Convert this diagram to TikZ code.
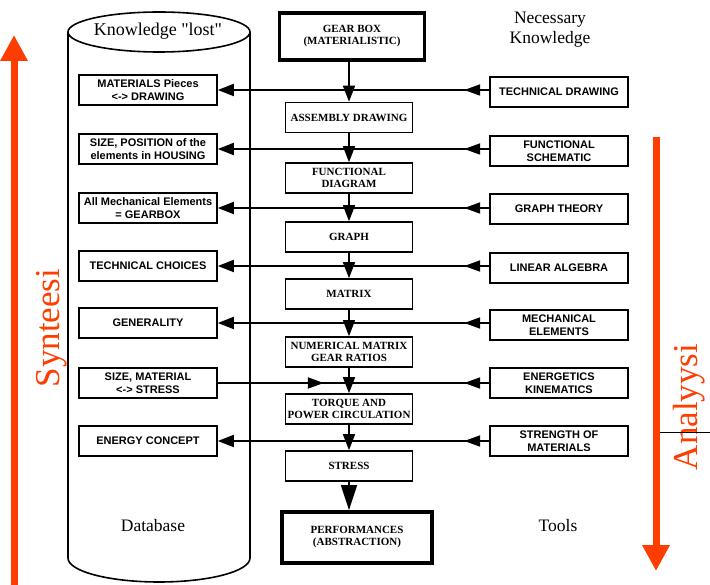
\documentclass[tikz,border=0pt]{standalone}
\usepackage{fontspec}
\setmainfont{Liberation Serif}
\setsansfont{Liberation Sans}
\usetikzlibrary{arrows.meta,decorations.markings}
\definecolor{redarrow}{RGB}{255,61,0}
\begin{document}
\begin{tikzpicture}[x=1pt,y=-1pt,
  sidebox/.style={draw, line width=1.6pt, minimum width=138pt, minimum height=30pt, inner sep=0pt, align=center, font=\sffamily\bfseries\fontsize{11}{12.5}\selectfont},
  midbox/.style={draw, line width=1.6pt, minimum width=127pt, minimum height=30pt, inner sep=0pt, align=center, font=\bfseries\fontsize{11}{12}\selectfont},
  bigbox/.style={midbox, line width=3.8pt},
  vflow/.style={line width=1.5pt, -{Triangle[length=16pt,width=12pt]}},
  hflow/.style={line width=1.8pt, -{Triangle[length=16pt,width=12pt]},
    postaction={decorate, decoration={markings, mark=at position 25pt with {\arrow{Triangle[length=16pt,width=11pt]}}}}},
  bothflow/.style={line width=1.8pt,
    postaction={decorate, decoration={markings,
      mark=at position 106pt with {\arrow{Triangle[length=16pt,width=11pt]}},
      mark=at position -25pt with {\arrowreversed{Triangle[length=16pt,width=11pt]}}}}},
  bigarrow/.style={redarrow, line width=7pt, -{Triangle[length=26pt,width=26pt]}},
  label/.style={font=\fontsize{17.5}{20}\selectfont},
  sidelabel/.style={text=redarrow, rotate=90, font=\fontsize{35}{40}\selectfont}
]
\useasboundingbox (0,0) rectangle (710,585);

% red arrows and labels
\coordinate (synbot) at (14,585);
\coordinate (syntop) at (14,35);
\draw[bigarrow] (synbot) -- (syntop);
\coordinate (anatop) at (656,137);
\coordinate (anabot) at (656,571);
\draw[bigarrow] (anatop) -- (anabot);
\node[sidelabel] (syn) at (52,328) {Synteesi};
\node[sidelabel] (ana) at (689,407) {Analyysi};
\coordinate (tickA) at (660,432);
\coordinate (tickB) at (710,432);
\draw[line width=0.6pt] (tickA) -- (tickB);

% database cylinder
\draw[line width=1.6pt] (68,32) -- (68,558) arc[start angle=180, end angle=0, x radius=91, y radius=24] -- (250,32);
\draw[line width=1.6pt] (159,32) ellipse [x radius=91, y radius=20];
\node[label, font=\fontsize{18}{20}\selectfont] (lost) at (158,31) {Knowledge \textquotedbl lost\textquotedbl};
\node[label] (db) at (153,526) {Database};
\node[label, align=center] (need) at (550,30) {Necessary\\Knowledge};
\node[label] (tools) at (558,526) {Tools};

% centre column
\node[bigbox, minimum width=145pt, minimum height=47pt] (C0) at (352,36.5) {GEAR BOX\\(MATERIALISTIC)};
\node[midbox] (C1) at (349,117.5) {ASSEMBLY DRAWING};
\node[midbox] (C2) at (349,178) {FUNCTIONAL\\DIAGRAM};
\node[midbox] (C3) at (349,237) {GRAPH};
\node[midbox] (C4) at (349,294) {MATRIX};
\node[midbox] (C5) at (349,352) {NUMERICAL MATRIX\\GEAR RATIOS};
\node[midbox] (C6) at (349,409) {TORQUE AND\\POWER CIRCULATION};
\node[midbox] (C7) at (349,466) {STRESS};
\node[bigbox, minimum width=150pt, minimum height=51pt] (C8) at (357,537.5) {PERFORMANCES\\(ABSTRACTION)};

\draw[vflow] (C0.south -| C1.north) -- (C1.north);
\draw[vflow] (C1) -- (C2);
\draw[vflow] (C2) -- (C3);
\draw[vflow] (C3) -- (C4);
\draw[vflow] (C4) -- (C5);
\draw[vflow] (C5) -- (C6);
\draw[vflow] (C6) -- (C7);
\draw[line width=1.5pt, -{Triangle[length=25pt,width=16pt]}] (C7.south) -- (C7.south |- C8.north);

% left database boxes
\node[sidebox] (L1) at (148,90) {MATERIALS Pieces\\<-> DRAWING};
\node[sidebox] (L2) at (148,149) {SIZE, POSITION of the\\elements in HOUSING};
\node[sidebox] (L3) at (148,208) {All Mechanical Elements\\= GEARBOX};
\node[sidebox] (L4) at (148,266) {TECHNICAL CHOICES};
\node[sidebox] (L5) at (148,323) {GENERALITY};
\node[sidebox] (L6) at (148,383) {SIZE, MATERIAL\\<-> STRESS};
\node[sidebox] (L7) at (148,441) {ENERGY CONCEPT};

% right tool boxes
\node[sidebox] (R1) at (559,92) {TECHNICAL DRAWING};
\node[sidebox] (R2) at (559,151) {FUNCTIONAL\\SCHEMATIC};
\node[sidebox] (R3) at (559,209) {GRAPH THEORY};
\node[sidebox] (R4) at (559,268) {LINEAR ALGEBRA};
\node[sidebox] (R5) at (559,325) {MECHANICAL\\ELEMENTS};
\node[sidebox] (R6) at (559,383) {ENERGETICS\\KINEMATICS};
\node[sidebox] (R7) at (559,441) {STRENGTH OF\\MATERIALS};

% horizontal connectors
\draw[hflow] (R1.west |- L1.east) -- (L1.east);
\draw[hflow] (R2.west |- L2.east) -- (L2.east);
\draw[hflow] (R3.west |- L3.east) -- (L3.east);
\draw[hflow] (R4.west |- L4.east) -- (L4.east);
\draw[hflow] (R5.west |- L5.east) -- (L5.east);
\draw[bothflow] (L6) -- (R6);
\draw[hflow] (R7) -- (L7);
\end{tikzpicture}
\end{document}
